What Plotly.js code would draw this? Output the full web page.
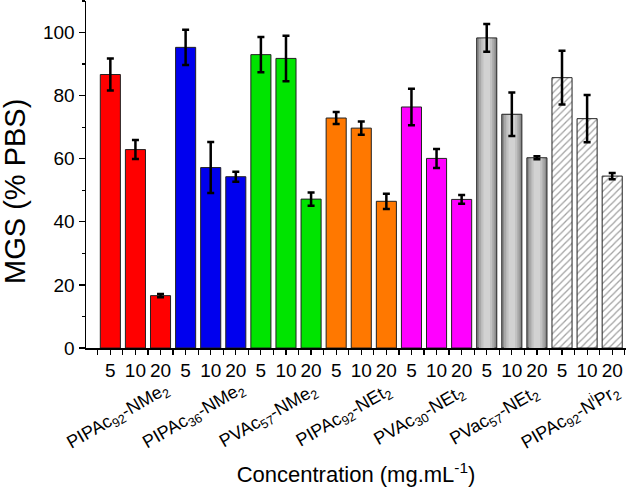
<!DOCTYPE html>
<html>
<head>
<meta charset="utf-8">
<script src="https://cdn.plot.ly/plotly-3.0.1.min.js"></script>
<style>
  html, body { margin: 0; padding: 0; background: #fff; }
  #chart { width: 626px; height: 487px; }
</style>
</head>
<body>
<div id="chart"></div>
<script>
// data
const polymers = [
  "PIPAc<sub>92</sub>-NMe<sub>2</sub>",
  "PIPAc<sub>36</sub>-NMe<sub>2</sub>",
  "PVAc<sub>57</sub>-NMe<sub>2</sub>",
  "PIPAc<sub>92</sub>-NEt<sub>2</sub>",
  "PVAc<sub>30</sub>-NEt<sub>2</sub>",
  "PVac<sub>57</sub>-NEt<sub>2</sub>",
  "PIPAc<sub>92</sub>-N<sup>i</sup>Pr<sub>2</sub>",
];
const concentrations = ["5", "10", "20"];
const mgs = [
  86.7, 62.9, 16.6,
  95.3, 57.2, 54.3,
  93.0, 91.8, 47.2,
  72.9, 69.7, 46.5,
  76.4, 60.1, 47.1,
  98.3, 74.1, 60.3,
  85.7, 72.7, 54.5,
];
const mgsErr = [
  5.1, 3.0, 0.5,
  5.6, 8.1, 1.6,
  5.6, 7.2, 2.1,
  1.9, 2.1, 2.4,
  5.8, 3.0, 1.4,
  4.4, 6.9, 0.5,
  8.5, 7.5, 1.0,
];
const groupColors = ["#ff0000", "#0000ee", "#00e400", "#ff7800", "#ff00ff", "#8c8c8c", "#ffffff"];
const grayGroup = 5;
const hatchedGroup = 6;

function plotMGS() {
  const x = [];
  const tickText = [];
  const solid = { x: [], y: [], e: [], c: [] };
  const hatched = { x: [], y: [], e: [] };
  const gray = { x: [], y: [] };
  polymers.forEach((p, g) => {
    concentrations.forEach((c, k) => {
      const i = g * concentrations.length + k;
      x.push(i);
      tickText.push(c);
      if (g === hatchedGroup) {
        hatched.x.push(i); hatched.y.push(mgs[i]); hatched.e.push(mgsErr[i]);
      } else {
        solid.x.push(i); solid.y.push(mgs[i]); solid.e.push(mgsErr[i]); solid.c.push(groupColors[g]);
      }
      if (g === grayGroup) { gray.x.push(i); gray.y.push(mgs[i]); }
    });
  });

  const errStyle = { type: "data", visible: true, color: "#000", thickness: 2.5, width: 3.5 };

  const traceSolid = {
    x: solid.x,
    y: solid.y,
    type: "bar",
    width: 0.8,
    marker: { color: solid.c, line: { color: "#222", width: 1 } },
  };
  // lighter inner strips give the grey bars their shaded look
  const grayShade = [
    { w: 0.62, c: "#a9a9a9" },
    { w: 0.44, c: "#c2c2c2" },
    { w: 0.26, c: "#d2d2d2" },
  ].map((s) => ({
    x: gray.x,
    y: gray.y.map((v) => v - 0.25),
    type: "bar",
    width: s.w,
    marker: { color: s.c, line: { width: 0 } },
  }));
  const traceErr = {
    x: solid.x,
    y: solid.y,
    type: "bar",
    width: 0.8,
    marker: { color: "rgba(0,0,0,0)", line: { width: 0 } },
    error_y: Object.assign({ array: solid.e }, errStyle),
  };
  const traceHatched = {
    x: hatched.x,
    y: hatched.y,
    type: "bar",
    width: 0.8,
    marker: {
      color: groupColors[hatchedGroup],
      line: { color: "#222", width: 1 },
      pattern: { shape: "/", fgcolor: "#444", bgcolor: "#ffffff", size: 5, solidity: 0.25, fillmode: "overlay" },
    },
    error_y: Object.assign({ array: hatched.e }, errStyle),
  };

  // group names under each set of three bars
  const annotations = polymers.map((p, g) => ({
    x: g * 3 + 1 - 0.68,
    xref: "x",
    y: -0.196,
    yref: "paper",
    text: p,
    showarrow: false,
    textangle: -30,
    xanchor: "center",
    yanchor: "middle",
    font: { family: "Arial", size: 18, color: "#000" },
  }));
  annotations.push({
    x: 0,
    xref: "paper",
    xshift: -71,
    y: 0.4496,
    yref: "paper",
    text: "MGS (% PBS)",
    showarrow: false,
    textangle: -90,
    xanchor: "center",
    yanchor: "middle",
    font: { family: "Arial", size: 29, color: "#000" },
  });

  const layout = {
    width: 626,
    height: 487,
    margin: { l: 86, r: 0, t: 1, b: 139 },
    paper_bgcolor: "#fff",
    plot_bgcolor: "#fff",
    showlegend: false,
    barmode: "overlay",
    font: { family: "Arial", color: "#000" },
    xaxis: {
      range: [-0.97, 20.55],
      tickmode: "array",
      tickvals: x,
      ticktext: tickText,
      ticks: "outside",
      ticklen: 5,
      tickwidth: 1.2,
      tickcolor: "#000",
      tickfont: { size: 19 },
      showline: true,
      linecolor: "#000",
      linewidth: 1.5,
      showgrid: false,
      zeroline: false,
      minor: { tickmode: "linear", tick0: -0.5, dtick: 1, ticks: "outside", ticklen: 5, tickwidth: 1.2, tickcolor: "#000", showgrid: false },
      title: { text: "Concentration (mg.mL<sup>-1</sup>)", font: { size: 22 }, standoff: 90 },
    },
    yaxis: {
      range: [0, 110],
      tickvals: [0, 20, 40, 60, 80, 100],
      ticks: "outside",
      ticklen: 6,
      tickwidth: 1.2,
      tickcolor: "#000",
      tickfont: { size: 19 },
      showline: true,
      linecolor: "#000",
      linewidth: 1.5,
      showgrid: false,
      zeroline: false,
      minor: { dtick: 10, ticks: "outside", ticklen: 3, tickwidth: 1.2, tickcolor: "#000", showgrid: false },
    },
    annotations: annotations,
  };

  Plotly.newPlot("chart", [traceSolid].concat(grayShade, [traceErr, traceHatched]), layout, { displayModeBar: false, staticPlot: true });
}

plotMGS();
</script>
</body>
</html>
